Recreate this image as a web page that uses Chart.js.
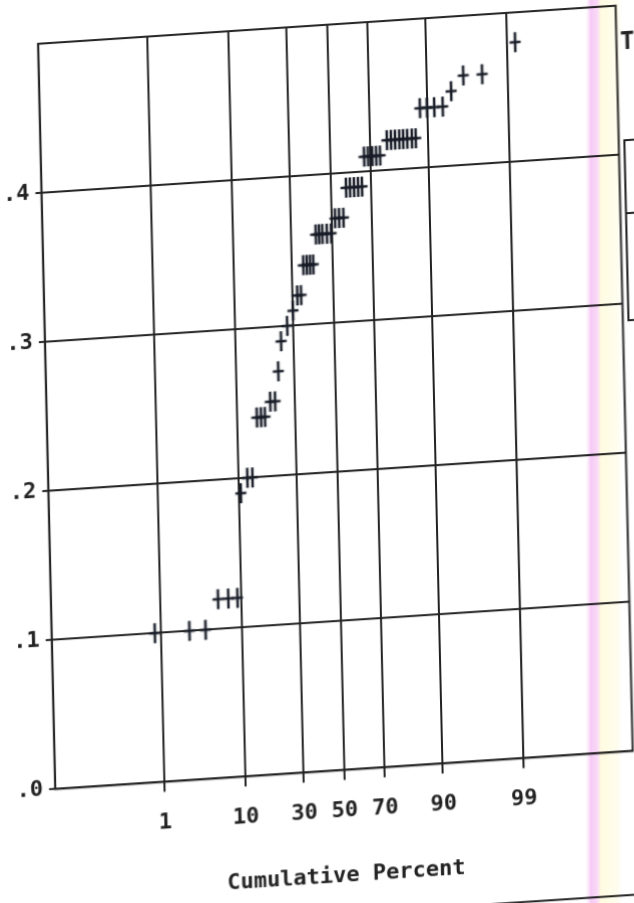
<!DOCTYPE html>
<html>
<head>
<meta charset="utf-8">
<script src="https://cdn.jsdelivr.net/npm/chart.js@4"></script>
<style>
  html, body { margin: 0; padding: 0; background: #fff; }
  body { width: 634px; height: 903px; overflow: hidden; position: relative; }
  /* sheet sits slightly skewed on the page */
  #plot { position: absolute; left: 0; top: 0; transform-origin: 317px 451.5px; transform: matrix(1, -0.066, 0.023, 1, 0, 0); }
  #fringe { position: absolute; left: 586px; top: 0; width: 36px; height: 903px; pointer-events: none; mix-blend-mode: multiply;
    background: linear-gradient(to right, rgba(255,255,255,0) 0px, rgba(238,160,238,.55) 5px, rgba(242,178,240,.5) 11px,
      rgba(255,248,200,.55) 15px, rgba(255,250,215,.45) 31px, rgba(255,255,255,0) 36px); }
</style>
</head>
<body>
<canvas id="plot" width="680" height="940"></canvas>
<div id="fringe"></div>
<script>
'use strict';
/* ── normal probability plot: observed value vs cumulative percent ── */

const cumPercent = [
  0.8, 2.5, 4.0, 5.7, 7.4, 9.2, 10.5, 12.2, 13.6, 15.3, 16.6, 17.9, 19.9, 21.7, 23.2,
  24.6, 27.3, 30.0, 32.1, 33.9, 35.3, 37.0, 38.6, 40.2, 41.8, 43.5, 45.2, 47.5, 49.7,
  51.9, 54.0, 56.2, 57.9, 59.9, 61.9, 63.9, 65.8, 67.1, 68.9, 70.8, 72.5, 74.2,
  77.1, 78.7, 80.2, 81.7, 83.0, 84.3, 85.7, 86.8, 88.1, 89.8, 91.4, 93.0,
  94.4, 96.0, 97.7, 99.25
];
const values = [
  0.10, 0.10, 0.10, 0.12, 0.12, 0.12, 0.19, 0.20, 0.20, 0.24, 0.24, 0.24, 0.25, 0.25, 0.27,
  0.29, 0.30, 0.31, 0.32, 0.32, 0.34, 0.34, 0.34, 0.34, 0.36, 0.36, 0.36, 0.36, 0.36,
  0.37, 0.37, 0.37, 0.39, 0.39, 0.39, 0.39, 0.39, 0.41, 0.41, 0.41, 0.41, 0.41,
  0.42, 0.42, 0.42, 0.42, 0.42, 0.42, 0.42, 0.42, 0.44, 0.44, 0.44, 0.44,
  0.45, 0.46, 0.46, 0.48
];
const percentTicks = [1, 10, 30, 50, 70, 90, 99];
const valueTicks = [0, 0.1, 0.2, 0.3, 0.4];

const INK = '#222';
const FONT = { family: "'DejaVu Sans Mono', 'Liberation Mono', monospace", size: 22, weight: 'bold' };

// inverse of the standard normal CDF (Acklam's rational approximation)
function probit(p) {
  const a = [-39.69683028665376, 220.9460984245205, -275.9285104469687, 138.3577518672690, -30.66479806614716, 2.506628277459239];
  const b = [-54.47609879822406, 161.5858368580409, -155.6989798598866, 66.80131188771972, -13.28068155288572];
  const c = [-0.007784894002430293, -0.3223964580411365, -2.400758277161838, -2.549732539343734, 4.374664141464968, 2.938163982698783];
  const d = [0.007784695709041462, 0.3224671290700398, 2.445134137142996, 3.754408661907416];
  const lo = 0.02425;
  if (p < lo) {
    const q = Math.sqrt(-2 * Math.log(p));
    return (((((c[0]*q+c[1])*q+c[2])*q+c[3])*q+c[4])*q+c[5]) / ((((d[0]*q+d[1])*q+d[2])*q+d[3])*q+1);
  }
  if (p > 1 - lo) return -probit(1 - p);
  const q = p - 0.5, r = q * q;
  return (((((a[0]*r+a[1])*r+a[2])*r+a[3])*r+a[4])*r+a[5])*q / (((((b[0]*r+b[1])*r+b[2])*r+b[3])*r+b[4])*r+1);
}

// percent axis spaced by normal quantiles
class ProbitScale extends Chart.LinearScale {
  static id = 'probit';
  buildTicks() {
    this.start = this.min; this.end = this.max;
    return percentTicks.map(v => ({ value: v }));
  }
  getPixelForValue(v) {
    if (v === null || v === undefined || isNaN(v)) return NaN;
    const z0 = probit(this.min / 100), z1 = probit(this.max / 100);
    return this.getPixelForDecimal((probit(v / 100) - z0) / (z1 - z0));
  }
}
Chart.register(ProbitScale);

// plotter "+" : tall stem, short bar
function plusMark() {
  const cv = document.createElement('canvas');
  cv.width = 14; cv.height = 24;
  const g = cv.getContext('2d');
  g.strokeStyle = '#161b26'; g.lineWidth = 2.5;
  g.beginPath();
  g.moveTo(7, 2); g.lineTo(7, 22);
  g.moveTo(1.5, 12); g.lineTo(12.5, 12);
  g.stroke();
  return cv;
}

const framePlugin = {
  id: 'frame',
  beforeDatasetsDraw(chart) {
    const { ctx, chartArea: a, width } = chart;
    ctx.save();
    ctx.strokeStyle = INK; ctx.lineWidth = 2;
    ctx.strokeRect(a.left, a.top, a.right - a.left, a.bottom - a.top);
    // side panel box, runs off the right edge
    ctx.beginPath();
    ctx.moveTo(width, 161); ctx.lineTo(631, 161); ctx.lineTo(631, 341); ctx.lineTo(width, 341);
    ctx.moveTo(631, 234); ctx.lineTo(width, 234);
    // page rule under the axis title
    ctx.moveTo(0, 915); ctx.lineTo(width, 915);
    ctx.stroke();
    ctx.fillStyle = INK;
    ctx.font = `bold 24px ${FONT.family}`;
    ctx.textBaseline = 'middle';
    ctx.fillText('T', 629, 64);
    ctx.restore();
  }
};

const gridOpts = len => ({ color: INK, lineWidth: 2, tickLength: len, tickColor: INK, tickWidth: 2 });

new Chart(document.getElementById('plot'), {
  type: 'scatter',
  data: {
    datasets: [{
      data: values.map((v, i) => ({ x: cumPercent[i], y: v })),
      pointStyle: plusMark(),
      pointRadius: 10
    }]
  },
  options: {
    responsive: false,
    animation: false,
    events: [],
    layout: { padding: { left: 0, top: 26, right: 54.6, bottom: 37 } },
    plugins: { legend: { display: false }, tooltip: { enabled: false } },
    scales: {
      x: {
        type: 'probit', min: 0.009, max: 99.991,
        afterFit: s => { s.height = 131.7; },
        grid: gridOpts(10),
        border: { color: INK, width: 2 },
        ticks: { color: INK, font: FONT, padding: 17.5, maxRotation: 0, autoSkip: false, callback: v => String(v) },
        title: { display: true, text: 'Cumulative Percent', color: INK, font: FONT, padding: { top: 0, bottom: 12.8 } }
      },
      y: {
        min: 0, max: 0.5,
        afterFit: s => { s.width = 47.8; },
        afterBuildTicks: s => { s.ticks = valueTicks.map(v => ({ value: v })); },
        grid: gridOpts(6),
        border: { color: INK, width: 2 },
        ticks: { color: INK, font: FONT, padding: 6, callback: v => v.toFixed(1).replace(/^0/, '') }
      }
    }
  },
  plugins: [framePlugin]
});
</script>
</body>
</html>
